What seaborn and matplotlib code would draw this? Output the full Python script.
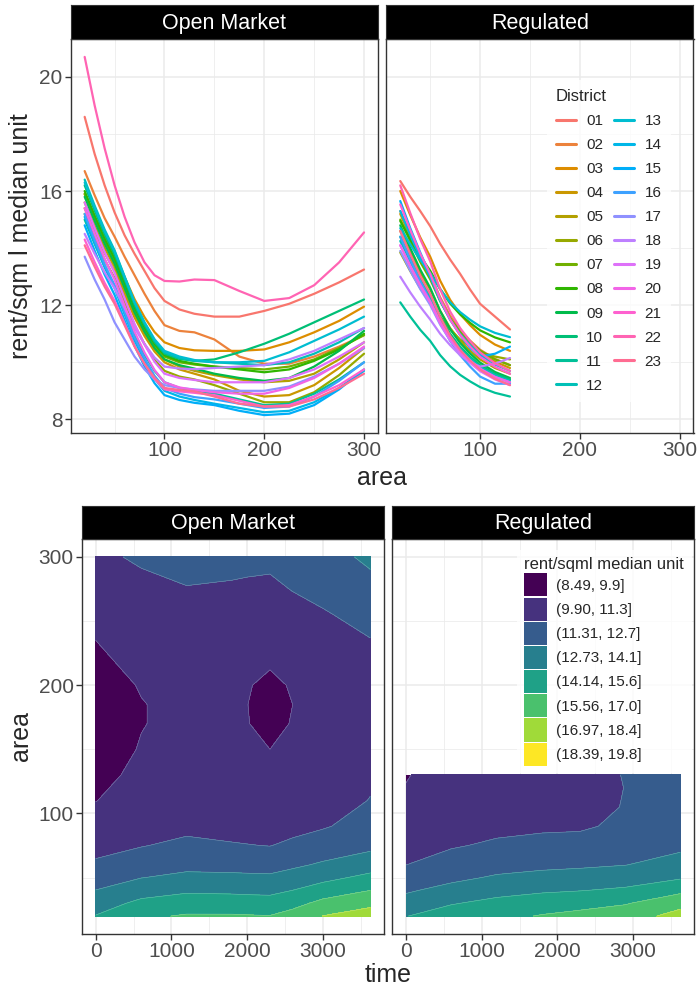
import numpy as np
import pandas as pd
import matplotlib
matplotlib.use('Agg')
import matplotlib.pyplot as plt
from matplotlib.patches import Patch
from matplotlib.lines import Line2D
import seaborn as sns

# ---- data ----
districts = ['01', '02', '03', '04', '05', '06', '07', '08', '09', '10', '11', '12',
             '13', '14', '15', '16', '17', '18', '19', '20', '21', '22', '23']

# smoothed rent/sqm per district, open market
om_area = [20, 30, 40, 50, 60, 70, 80, 90, 100, 115, 130, 150, 175, 200, 225, 250, 275, 300]
om_rent = [
    [18.6, 17.3, 16.2, 15.25, 14.45, 13.8, 13.2, 12.6, 12.15, 11.85, 11.7, 11.6, 11.6, 11.8, 12.05, 12.4, 12.8, 13.25],
    [16.7, 15.85, 15.05, 14.4, 13.7, 13.05, 12.4, 11.8, 11.3, 11.1, 11.05, 10.8, 10.2, 9.95, 9.95, 10.2, 10.55, 10.95],
    [15.9, 15.12, 14.39, 13.77, 12.99, 12.21, 11.58, 11.06, 10.7, 10.5, 10.42, 10.4, 10.4, 10.45, 10.7, 11.05, 11.45, 11.95],
    [15.4, 14.59, 13.83, 13.19, 12.38, 11.57, 10.92, 10.38, 10.0, 9.75, 9.6, 9.4, 9.0, 8.8, 8.85, 9.2, 9.8, 10.5],
    [15.6, 14.78, 14.0, 13.35, 12.52, 11.7, 11.04, 10.49, 10.1, 9.85, 9.7, 9.55, 9.4, 9.3, 9.35, 9.6, 10.1, 10.7],
    [15.2, 14.38, 13.6, 12.95, 12.12, 11.3, 10.64, 10.09, 9.7, 9.5, 9.4, 9.2, 8.9, 8.6, 8.6, 8.95, 9.55, 10.3],
    [15.9, 15.05, 14.25, 13.56, 12.71, 11.85, 11.17, 10.6, 10.2, 10.0, 9.92, 9.85, 9.8, 9.75, 9.85, 10.1, 10.5, 10.95],
    [16.0, 15.14, 14.33, 13.64, 12.78, 11.92, 11.23, 10.65, 10.25, 10.05, 9.95, 9.85, 9.75, 9.65, 9.75, 10.05, 10.45, 11.0],
    [15.8, 14.95, 14.15, 13.46, 12.61, 11.75, 11.07, 10.5, 10.1, 9.9, 9.78, 9.6, 9.45, 9.35, 9.45, 9.85, 10.4, 11.1],
    [16.2, 15.32, 14.49, 13.78, 12.9, 12.01, 11.3, 10.71, 10.3, 10.12, 10.05, 10.1, 10.35, 10.65, 11.0, 11.4, 11.8, 12.2],
    [15.0, 14.15, 13.35, 12.66, 11.81, 10.95, 10.27, 9.7, 9.3, 9.1, 8.98, 8.9, 8.7, 8.5, 8.55, 8.9, 9.4, 10.0],
    [16.4, 15.49, 14.65, 13.92, 13.01, 12.1, 11.38, 10.77, 10.35, 10.15, 10.05, 10.0, 9.95, 9.9, 10.0, 10.3, 10.7, 11.2],
    [16.3, 15.42, 14.59, 13.88, 12.99, 12.11, 11.4, 10.81, 10.4, 10.2, 10.08, 10.0, 10.0, 10.05, 10.35, 10.75, 11.15, 11.6],
    [15.1, 14.19, 13.33, 12.6, 11.68, 10.77, 10.04, 9.43, 9.0, 8.8, 8.68, 8.55, 8.4, 8.25, 8.3, 8.6, 9.1, 9.7],
    [14.8, 13.91, 13.07, 12.36, 11.47, 10.58, 9.86, 9.27, 8.85, 8.68, 8.58, 8.5, 8.3, 8.15, 8.2, 8.5, 9.05, 9.75],
    [15.2, 14.29, 13.43, 12.7, 11.78, 10.87, 10.14, 9.53, 9.1, 8.9, 8.78, 8.7, 8.55, 8.4, 8.45, 8.8, 9.35, 10.0],
    [13.7, 12.9, 12.2, 11.4, 10.8, 10.2, 9.75, 9.4, 9.2, 9.1, 9.05, 9.0, 9.0, 9.0, 9.15, 9.5, 9.95, 10.5],
    [14.5, 13.8, 13.15, 12.59, 11.9, 11.2, 10.64, 10.17, 9.85, 9.78, 9.76, 9.8, 9.85, 9.9, 10.1, 10.4, 10.8, 11.2],
    [15.6, 14.7, 13.86, 13.14, 12.24, 11.34, 10.62, 10.02, 9.6, 9.45, 9.38, 9.3, 9.3, 9.3, 9.45, 9.75, 10.2, 10.7],
    [15.4, 14.49, 13.63, 12.9, 11.98, 11.07, 10.34, 9.73, 9.3, 9.12, 9.03, 8.95, 8.9, 8.9, 9.1, 9.45, 9.95, 10.55],
    [14.3, 13.51, 12.78, 12.15, 11.36, 10.57, 9.94, 9.42, 9.05, 8.98, 8.93, 8.85, 8.65, 8.45, 8.5, 8.8, 9.2, 9.75],
    [20.7, 19.0, 17.5, 16.2, 15.1, 14.2, 13.5, 13.05, 12.85, 12.83, 12.9, 12.88, 12.5, 12.15, 12.25, 12.7, 13.5, 14.55],
    [14.1, 13.35, 12.65, 12.05, 11.3, 10.55, 9.95, 9.45, 9.1, 9.03, 8.98, 8.8, 8.55, 8.45, 8.45, 8.7, 9.1, 9.6],
]

# smoothed rent/sqm per district, regulated
reg_area = [20, 30, 40, 50, 60, 70, 80, 90, 100, 115, 130]
reg_rent = [
    [16.35, 15.8, 15.3, 14.77, 14.15, 13.6, 13.1, 12.55, 12.05, 11.6, 11.15],
    [15.3, 14.49, 13.73, 13.09, 12.28, 11.63, 11.14, 10.76, 10.44, 10.12, 9.9],
    [16.0, 15.16, 14.38, 13.7, 12.86, 12.19, 11.69, 11.3, 10.96, 10.62, 10.4],
    [15.2, 14.39, 13.63, 12.99, 12.18, 11.53, 11.04, 10.66, 10.34, 10.02, 9.8],
    [14.6, 13.85, 13.15, 12.55, 11.8, 11.2, 10.75, 10.4, 10.1, 9.8, 9.6],
    [13.85, 13.2, 12.6, 12.1, 11.6, 11.15, 10.8, 10.55, 10.35, 10.2, 10.1],
    [15.0, 14.24, 13.52, 12.91, 12.14, 11.53, 11.07, 10.72, 10.41, 10.1, 9.9],
    [14.95, 14.31, 13.72, 13.21, 12.57, 12.06, 11.68, 11.38, 11.12, 10.87, 10.7],
    [14.8, 14.0, 13.25, 12.61, 11.8, 11.16, 10.68, 10.31, 9.99, 9.66, 9.45],
    [14.4, 13.65, 12.95, 12.35, 11.6, 11.0, 10.55, 10.2, 9.9, 9.6, 9.4],
    [12.1, 11.6, 11.14, 10.75, 10.25, 9.86, 9.56, 9.33, 9.13, 8.93, 8.8],
    [14.25, 13.52, 12.83, 12.24, 11.51, 10.92, 10.48, 10.13, 9.84, 9.55, 9.35],
    [14.7, 14.13, 13.59, 13.13, 12.56, 12.1, 11.76, 11.49, 11.26, 11.03, 10.88],
    [15.3, 14.46, 13.68, 13.0, 12.16, 11.49, 10.99, 10.6, 10.26, 9.92, 9.7],
    [15.65, 14.7, 13.85, 13.05, 12.2, 11.5, 10.95, 10.5, 10.2, 10.3, 10.55],
    [14.4, 13.6, 12.85, 12.15, 11.4, 10.75, 10.25, 9.85, 9.5, 9.25, 9.25],
    [13.9, 13.21, 12.57, 12.01, 11.32, 10.77, 10.36, 10.04, 9.76, 9.48, 9.3],
    [13.0, 12.45, 11.95, 11.5, 11.0, 10.6, 10.25, 10.0, 9.85, 9.95, 10.15],
    [14.1, 13.37, 12.68, 12.09, 11.36, 10.77, 10.33, 9.98, 9.69, 9.4, 9.2],
    [14.1, 13.38, 12.71, 12.13, 11.41, 10.84, 10.4, 10.07, 9.78, 9.49, 9.3],
    [15.53, 14.64, 13.81, 13.1, 12.21, 11.5, 10.96, 10.55, 10.19, 9.84, 9.6],
    [16.2, 15.23, 14.32, 13.54, 12.56, 11.78, 11.2, 10.74, 10.35, 9.96, 9.7],
    [14.6, 13.79, 13.03, 12.39, 11.58, 10.93, 10.44, 10.06, 9.74, 9.42, 9.2],
]

# surface of rent over time x area (one list per time column)
om_time = [0, 600, 1200, 1800, 2000, 2300, 2600, 3000, 3624]
om_grid_area = [20, 30, 40, 50, 60, 75, 90, 110, 130, 150, 170, 185, 200, 215, 235, 255, 275, 300]
om_surface = [
    [14.2, 13.4, 12.75, 12.2, 11.55, 10.8, 10.3, 9.88, 9.65, 9.5, 9.45, 9.45, 9.55, 9.7, 9.9, 10.2, 10.6, 11.1],
    [15.3, 14.5, 13.5, 12.7, 12.0, 11.25, 10.75, 10.35, 10.1, 9.95, 9.87, 9.87, 9.95, 10.1, 10.35, 10.7, 11.05, 11.45],
    [15.7, 14.8, 13.95, 13.05, 12.35, 11.6, 11.0, 10.55, 10.3, 10.15, 10.1, 10.1, 10.15, 10.3, 10.6, 10.95, 11.27, 11.65],
    [15.7, 14.75, 13.9, 13.0, 12.3, 11.4, 10.9, 10.45, 10.2, 10.05, 10.0, 10.0, 10.05, 10.2, 10.5, 10.85, 11.2, 11.6],
    [15.65, 14.72, 13.85, 12.98, 12.25, 11.35, 10.85, 10.4, 10.15, 10.0, 9.93, 9.91, 9.96, 10.12, 10.45, 10.8, 11.15, 11.58],
    [15.6, 14.7, 13.8, 12.95, 12.2, 11.28, 10.75, 10.3, 10.05, 9.9, 9.65, 9.6, 9.7, 9.95, 10.35, 10.75, 11.1, 11.55],
    [16.1, 15.1, 14.15, 13.25, 12.5, 11.55, 10.95, 10.5, 10.25, 10.08, 9.95, 9.9, 9.98, 10.2, 10.55, 10.95, 11.35, 11.85],
    [17.0, 15.95, 14.8, 13.75, 12.9, 11.95, 11.2, 10.75, 10.5, 10.35, 10.35, 10.35, 10.4, 10.55, 10.85, 11.2, 11.65, 12.2],
    [17.7, 16.6, 15.56, 14.5, 13.5, 12.4, 11.8, 11.35, 11.1, 10.95, 10.9, 10.9, 10.95, 11.05, 11.27, 11.7, 12.3, 13.0],
]

reg_time = [0, 600, 1200, 1800, 2300, 2900, 3624]
reg_grid_area = [20, 30, 40, 50, 60, 75, 90, 105, 120, 130]
reg_surface = [
    [14.1, 13.3, 12.55, 11.85, 11.3, 10.7, 10.3, 10.05, 9.93, 9.85],
    [14.8, 14.05, 13.2, 12.4, 11.85, 11.2, 10.8, 10.5, 10.35, 10.3],
    [15.2, 14.5, 13.7, 12.9, 12.2, 11.5, 11.0, 10.7, 10.55, 10.5],
    [15.65, 14.9, 13.95, 13.1, 12.45, 11.7, 11.1, 10.8, 10.65, 10.6],
    [15.95, 15.1, 14.1, 13.2, 12.55, 11.75, 11.15, 10.85, 10.85, 10.9],
    [16.4, 15.45, 14.35, 13.5, 12.7, 12.0, 11.55, 11.38, 11.33, 11.36],
    [17.4, 16.6, 15.2, 14.0, 13.25, 12.45, 12.0, 11.75, 11.6, 11.55],
]

bins = [8.49, 9.90, 11.31, 12.73, 14.14, 15.56, 16.97, 18.39, 19.8]
bin_labels = ['(8.49, 9.9]', '(9.90, 11.3]', '(11.31, 12.7]', '(12.73, 14.1]',
              '(14.14, 15.6]', '(15.56, 17.0]', '(16.97, 18.4]', '(18.39, 19.8]']


# ggplot-like hue palette (hcl, c=100, l=65)
def hue_palette(n):
    hues = np.linspace(15, 375, n + 1)[:-1]
    L, C = 65.0, 100.0
    Xn, Yn, Zn = 0.95047, 1.0, 1.08883
    un = 4 * Xn / (Xn + 15 * Yn + 3 * Zn)
    vn = 9 * Yn / (Xn + 15 * Yn + 3 * Zn)
    M = np.array([[3.2406, -1.5372, -0.4986],
                  [-0.9689, 1.8758, 0.0415],
                  [0.0557, -0.2040, 1.0570]])
    cols = []
    for h in hues:
        u = C * np.cos(np.radians(h))
        v = C * np.sin(np.radians(h))
        Y = Yn * ((L + 16) / 116) ** 3
        up = u / (13 * L) + un
        vp = v / (13 * L) + vn
        X = Y * 9 * up / (4 * vp)
        Z = Y * (12 - 3 * up - 20 * vp) / (4 * vp)
        rgb = np.clip(M @ np.array([X, Y, Z]), 0, 1)
        rgb = np.where(rgb <= 0.0031308, 12.92 * rgb, 1.055 * rgb ** (1 / 2.4) - 0.055)
        cols.append(tuple(np.clip(rgb, 0, 1)))
    return cols


pal = hue_palette(len(districts))
# viridis with both ends included, like R's viridis(8)
viridis = [tuple(c) for c in plt.get_cmap('viridis')(np.linspace(0, 1, len(bin_labels)))]

# long tables for seaborn
om_df = pd.DataFrame([(d, a, r) for d, row in zip(districts, om_rent) for a, r in zip(om_area, row)],
                     columns=['District', 'area', 'rent'])
reg_df = pd.DataFrame([(d, a, r) for d, row in zip(districts, reg_rent) for a, r in zip(reg_area, row)],
                      columns=['District', 'area', 'rent'])

sns.set_style('white')
plt.rcParams['font.family'] = ['Liberation Sans', 'DejaVu Sans']

fig = plt.figure(figsize=(6.97, 9.91), dpi=100)
W, H = 697.0, 991.0


def px_axes(x0, y0, x1, y1):
    return fig.add_axes([x0 / W, 1 - y1 / H, (x1 - x0) / W, (y1 - y0) / H])


def style(ax):
    ax.set_facecolor('white')
    ax.set_axisbelow(True)
    ax.grid(True, which='major', color='#EBEBEB', lw=1.1)
    ax.grid(True, which='minor', color='#EBEBEB', lw=0.55)
    for s in ax.spines.values():
        s.set_color('#333333')
        s.set_linewidth(1.0)
    ax.tick_params(which='major', length=4, width=1, color='#333333', labelcolor='#4D4D4D',
                   labelsize=15, pad=2, bottom=True, left=True)
    ax.tick_params(which='minor', length=0)
    ax.set_xlabel('')
    ax.set_ylabel('')


def strip(x0, y0, x1, y1, label):
    s = px_axes(x0, y0, x1, y1)
    s.set_facecolor('black')
    s.set_xticks([])
    s.set_yticks([])
    for sp in s.spines.values():
        sp.set_color('#333333')
    s.text(0.5, 0.47, label, color='white', fontsize=15.5, ha='center', va='center', transform=s.transAxes)


# ---- top row: smoothed lines ----
all_rent = np.concatenate([np.ravel(om_rent), np.ravel(reg_rent)])
ypad = (all_rent.max() - all_rent.min()) * 0.05
xpad = (max(om_area) - min(om_area)) * 0.05
top_panels = [(70.7, 378.0, om_df, 'Open Market'), (386.3, 693.5, reg_df, 'Regulated')]
top_axes = []
for x0, x1, df, name in top_panels:
    ax = px_axes(x0, 39, x1, 433)
    sns.lineplot(data=df, x='area', y='rent', hue='District', palette=pal, ax=ax,
                 legend=False, linewidth=1.6, estimator=None)
    ax.set_xlim(min(om_area) - xpad, max(om_area) + xpad)
    ax.set_ylim(all_rent.min() - ypad, all_rent.max() + ypad)
    ax.set_xticks([100, 200, 300])
    ax.set_xticks([50, 150, 250], minor=True)
    ax.set_yticks([8, 12, 16, 20])
    ax.set_yticks([10, 14, 18], minor=True)
    style(ax)
    strip(x0, 5, x1, 39, name)
    top_axes.append(ax)
top_axes[1].tick_params(labelleft=False, left=False)

# ---- bottom row: filled contours ----
tpad = (max(om_time) - min(om_time)) * 0.05
apad = (max(om_grid_area) - min(om_grid_area)) * 0.05
bottom_panels = [(82.0, 384.0, om_time, om_grid_area, om_surface, 'Open Market'),
                 (392.3, 694.0, reg_time, reg_grid_area, reg_surface, 'Regulated')]
bottom_axes = []
for x0, x1, tt, aa, surf, name in bottom_panels:
    ax = px_axes(x0, 539, x1, 934)
    Z = np.array(surf).T
    ax.contourf(tt, aa, Z, levels=bins, colors=viridis)
    ax.contour(tt, aa, Z, levels=bins[1:-1], colors='white', linewidths=0.4, alpha=0.35)
    ax.set_xlim(min(om_time) - tpad, max(om_time) + tpad)
    ax.set_ylim(min(om_grid_area) - apad, max(om_grid_area) + apad)
    ax.set_xticks([0, 1000, 2000, 3000])
    ax.set_xticks([500, 1500, 2500, 3500], minor=True)
    ax.set_yticks([100, 200, 300])
    ax.set_yticks([50, 150, 250], minor=True)
    style(ax)
    strip(x0, 506, x1, 539, name)
    bottom_axes.append(ax)
bottom_axes[1].tick_params(labelleft=False, left=False)

# ---- axis titles ----
fig.text(21 / W, 1 - 236 / H, 'rent/sqm l median unit', rotation=90, ha='center', va='center', fontsize=18)
fig.text(382 / W, 1 - 478 / H, 'area', ha='center', va='center', fontsize=18)
fig.text(21 / W, 1 - 736 / H, 'area', rotation=90, ha='center', va='center', fontsize=18)
fig.text(388 / W, 1 - 975 / H, 'time', ha='center', va='center', fontsize=18)

# ---- legends ----
line_handles = [Line2D([0], [0], color=c, lw=2.2) for c in pal]
leg1 = fig.legend(line_handles, districts, ncol=2, title='District', loc='upper left',
                  bbox_to_anchor=(539 / W, 1 - 72 / H), frameon=True, fontsize=11, title_fontsize=12,
                  handlelength=1.3, handletextpad=0.7, columnspacing=0.7, labelspacing=0.66,
                  alignment='left', borderpad=0.6)
leg1.get_frame().set_facecolor('white')
leg1.get_frame().set_edgecolor('none')
leg1.get_frame().set_boxstyle('square', pad=0)

patch_handles = [Patch(facecolor=c, edgecolor='none') for c in viridis]
leg2 = fig.legend(patch_handles, bin_labels, ncol=1, title='rent/sqml median unit', loc='upper left',
                  bbox_to_anchor=(509 / W, 1 - 542 / H), frameon=True, fontsize=11, title_fontsize=12,
                  handlelength=1.5, handleheight=1.95, handletextpad=0.6, labelspacing=0.07,
                  alignment='left', borderpad=0.5)
leg2.get_frame().set_facecolor('white')
leg2.get_frame().set_edgecolor('none')
leg2.get_frame().set_boxstyle('square', pad=0)

fig.savefig('out.png', dpi=100)
